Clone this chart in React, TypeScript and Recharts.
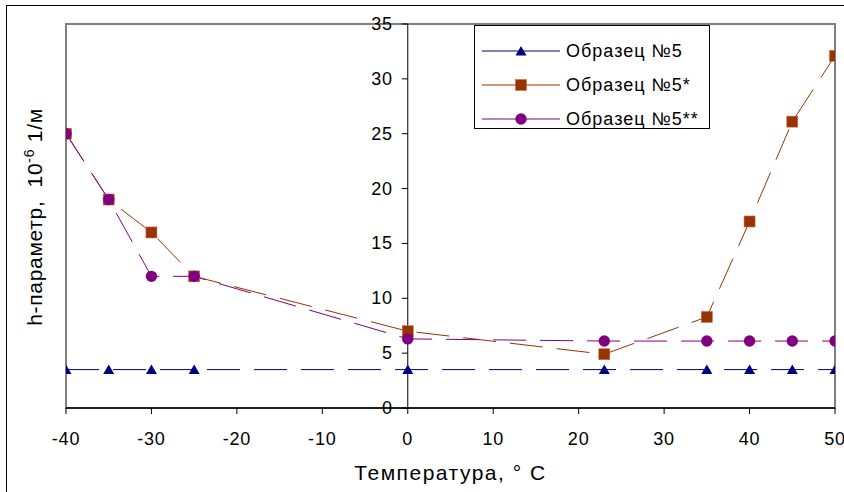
import React from 'react';
import {
  LineChart, Line, XAxis, YAxis, ReferenceArea, ReferenceLine, Legend,
} from 'recharts';

const temps = [-40, -35, -30, -25, 0, 23, 35, 40, 45, 50];
const sample5 = [3.5, 3.5, 3.5, 3.5, 3.5, 3.5, 3.5, 3.5, 3.5, 3.5];
const sample5s = [25, 19, 16, 12, 7, 4.9, 8.3, 17, 26.1, 32.1];
const sample5ss = [25, 19, 12, 12, 6.3, 6.1, 6.1, 6.1, 6.1, 6.1];

const xTicks = [-40, -30, -20, -10, 0, 10, 20, 30, 40, 50];
const yTicks = [0, 5, 10, 15, 20, 25, 30, 35];
const seriesNames = ['Образец №5', 'Образец №5*', 'Образец №5**'];

const W = 844;
const H = 492;
const M = { top: 24, right: 9, bottom: 34, left: 6 };
const Y_W = 60;
const FONT = '"Liberation Sans", Arial, sans-serif';

const NAVY = '#000080';
const RUST = '#993300';
const PURPLE = '#800080';

// where x = 0 falls inside the plot (y axis is drawn there)
const plotLeft = M.left + Y_W;
const plotW = W - plotLeft - M.right;
const X0 = plotLeft + ((0 - xTicks[0]) / (xTicks[xTicks.length - 1] - xTicks[0])) * plotW;

const data = temps.map((t, i) => ({
  t,
  a: sample5[i],
  b: sample5s[i],
  c: sample5ss[i],
}));

const Tri = ({ cx, cy, fill }: any) => (
  <polygon points={`${cx - 5.5},${cy + 4.5} ${cx + 5.5},${cy + 4.5} ${cx},${cy - 5}`} fill={fill} />
);
const Sq = ({ cx, cy, fill }: any) => (
  <rect x={cx - 5.5} y={cy - 5.5} width={11} height={11} fill={fill} stroke="#c07050" strokeWidth={0.6} />
);
const Dot = ({ cx, cy, fill }: any) => <circle cx={cx} cy={cy} r={5.7} fill={fill} />;

const markers = [
  { color: NAVY, Shape: Tri },
  { color: RUST, Shape: Sq },
  { color: PURPLE, Shape: Dot },
];

const YTick = ({ y, payload }: any) => (
  <g>
    <line x1={X0 - 6} x2={X0} y1={y} y2={y} stroke="#000" />
    <text x={X0 - 15} y={y + 6} textAnchor="end" fontSize={18} letterSpacing={0.8} fontFamily={FONT} fill="#000">
      {payload.value}
    </text>
  </g>
);

const XTick = ({ x, y, payload }: any) => (
  <text x={x} y={y + 29} textAnchor="middle" fontSize={18} letterSpacing={0.8} fontFamily={FONT} fill="#000">
    {payload.value}
  </text>
);

const LegendBox = () => (
  <div
    style={{
      width: 236,
      height: 104,
      border: '1px solid #000',
      background: '#fff',
      boxSizing: 'border-box',
      paddingTop: 8,
      fontFamily: FONT,
      fontSize: 18,
      letterSpacing: 1,
    }}
  >
    {seriesNames.map((name, i) => {
      const { color, Shape } = markers[i];
      return (
        <div key={name} style={{ display: 'flex', alignItems: 'center', height: 34 }}>
          <svg width={91} height={20} style={{ flex: 'none' }}>
            <line x1={7} x2={85} y1={10} y2={10} stroke={color} strokeWidth={1} />
            <Shape cx={46} cy={10} fill={color} />
          </svg>
          <span style={{ color: '#000' }}>{name}</span>
        </div>
      );
    })}
  </div>
);

export default function App() {
  return (
    <div style={{ position: 'absolute', left: 0, top: 0, width: W, height: H, overflow: 'hidden', background: '#fff' }}>
      <div
        style={{
          position: 'absolute',
          left: 6,
          top: 5,
          width: W + 20,
          height: H + 20,
          border: '1.5px solid #000',
        }}
      />
      <div style={{ position: 'absolute', left: 0, top: 0 }}>
        <LineChart width={W} height={H} data={data} margin={M}>
          <ReferenceArea x1={-40} x2={50} y1={0} y2={35} fill="none" stroke="#808080" strokeWidth={2} />
          <XAxis
            dataKey="t"
            type="number"
            domain={[-40, 50]}
            ticks={xTicks}
            allowDataOverflow
            height={50}
            axisLine={{ stroke: '#000' }}
            tickLine={{ stroke: '#000' }}
            tickSize={6}
            tick={<XTick />}
            label={{
              content: ({ viewBox }: any) => (
                <text
                  x={viewBox.x + viewBox.width / 2}
                  y={480}
                  textAnchor="middle"
                  fontSize={21}
                  letterSpacing={1.5}
                  fontFamily={FONT}
                  fill="#000"
                  style={{ whiteSpace: 'pre' }}
                >
                  Температура, ° C
                </text>
              ),
            }}
          />
          <YAxis
            type="number"
            domain={[0, 35]}
            ticks={yTicks}
            width={Y_W}
            axisLine={false}
            tickLine={false}
            tick={<YTick />}
            label={{
              content: () => (
                <text
                  x={42}
                  y={217}
                  transform="rotate(-90 42 217)"
                  textAnchor="middle"
                  fontSize={21}
                  letterSpacing={0.7}
                  fontFamily={FONT}
                  fill="#000"
                  style={{ whiteSpace: 'pre' }}
                >
                  {'h-параметр,  10'}
                  <tspan dy={-8} fontSize={14}>-6</tspan>
                  <tspan dy={8}>{' 1/м'}</tspan>
                </text>
              ),
            }}
          />
          <ReferenceLine x={0} stroke="#000" strokeWidth={1} />
          <ReferenceLine y={0} stroke="#000" strokeWidth={1} />
          <Line
            dataKey="a"
            name={seriesNames[0]}
            stroke={NAVY}
            strokeWidth={1}
            strokeDasharray="33 14"
            dot={(p: any) => <Tri key={p.index} cx={p.cx} cy={p.cy} fill={NAVY} />}
            isAnimationActive={false}
          />
          <Line
            dataKey="b"
            name={seriesNames[1]}
            stroke={RUST}
            strokeWidth={1}
            strokeDasharray="33 14"
            dot={(p: any) => <Sq key={p.index} cx={p.cx} cy={p.cy} fill={RUST} />}
            isAnimationActive={false}
          />
          <Line
            dataKey="c"
            name={seriesNames[2]}
            stroke={PURPLE}
            strokeWidth={1}
            strokeDasharray="33 14"
            dot={(p: any) => <Dot key={p.index} cx={p.cx} cy={p.cy} fill={PURPLE} />}
            isAnimationActive={false}
          />
          <Legend
            layout="vertical"
            align="center"
            verticalAlign="middle"
            content={<LegendBox />}
            wrapperStyle={{ left: 474, top: 25, width: 236, height: 104 }}
          />
        </LineChart>
      </div>
    </div>
  );
}
